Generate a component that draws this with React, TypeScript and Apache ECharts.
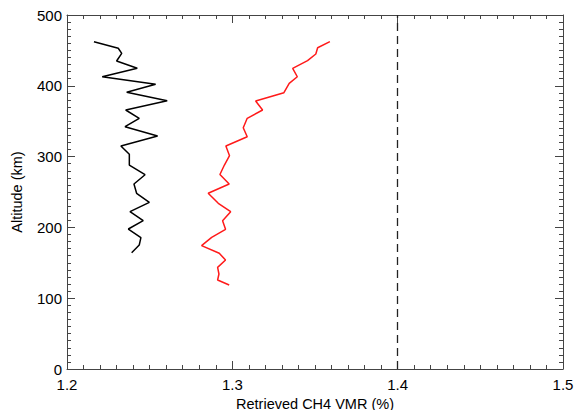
import React, { useEffect, useRef } from "react";
import * as echarts from "echarts";

const xTicks = [1.2, 1.3, 1.4, 1.5];
const yTicks = [0, 100, 200, 300, 400, 500];
const referenceVMR = 1.4;

const blackAltitude = [462.3, 453.0, 445.9, 435.0, 424.7, 412.8, 402.1, 390.8, 379.0, 365.8, 354.1, 342.2, 329.1, 315.0, 303.2, 288.1, 274.4, 261.3, 248.2, 235.4, 222.2, 209.5, 197.7, 185.5, 175.1, 164.3];
const blackVMR = [1.2163, 1.231, 1.2331, 1.23, 1.2425, 1.2213, 1.2536, 1.2361, 1.2606, 1.2355, 1.2437, 1.2351, 1.2548, 1.2326, 1.2377, 1.2377, 1.2472, 1.2405, 1.2421, 1.2498, 1.2381, 1.2461, 1.2371, 1.2447, 1.2437, 1.2391];

const redAltitude = [462.3, 453.8, 444.9, 435.5, 424.7, 412.8, 403.5, 390.3, 378.5, 365.8, 354.1, 340.8, 328.1, 315.0, 301.3, 288.1, 274.7, 261.3, 248.2, 234.0, 222.2, 209.5, 197.3, 186.0, 174.2, 163.4, 154.0, 143.6, 134.2, 125.7, 118.6];
const redVMR = [1.359, 1.3516, 1.3505, 1.3455, 1.3365, 1.3393, 1.3344, 1.3312, 1.3141, 1.3183, 1.309, 1.3066, 1.309, 1.2961, 1.2983, 1.2952, 1.2925, 1.2981, 1.2854, 1.2915, 1.299, 1.2941, 1.2959, 1.2875, 1.2814, 1.2921, 1.2959, 1.2911, 1.2919, 1.2911, 1.2981];

const FONT = "'Liberation Sans', Arial, Helvetica, sans-serif";
const AXIS_COLOR = "#444";

export default function App() {
  const ref = useRef<HTMLDivElement>(null);
  useEffect(() => {
    if (!ref.current) return;
    const chart = echarts.init(ref.current, null, { renderer: "svg" });
    const pair = (xs: number[], ys: number[]) => xs.map((x, i) => [x, ys[i]]);
    const axisCommon = {
      axisLine: { show: true, onZero: false, lineStyle: { color: AXIS_COLOR, width: 1 } },
      axisTick: { show: true, inside: true, length: 8, lineStyle: { color: AXIS_COLOR, width: 1 } },
      minorTick: { show: true, splitNumber: 10, length: 4, lineStyle: { color: AXIS_COLOR, width: 1 } },
      splitLine: { show: false },
      minorSplitLine: { show: false },
    };
    chart.setOption({
      animation: false,
      backgroundColor: "#fff",
      grid: { left: 67, right: 12, top: 15, bottom: 41, containLabel: false, outerBoundsMode: "none" },
      xAxis: [
        {
          type: "value",
          position: "bottom",
          min: xTicks[0],
          max: xTicks[xTicks.length - 1],
          interval: 0.1,
          ...axisCommon,
          axisLabel: {
            color: "#000",
            fontSize: 15,
            fontFamily: FONT,
            margin: 8,
            formatter: (v: number) => v.toFixed(1),
          },
          name: "Retrieved CH4 VMR (%)",
          nameLocation: "middle",
          nameGap: 21,
          nameTextStyle: { color: "#000", fontSize: 14.5, fontFamily: FONT, lineHeight: 14 },
        },
        {
          type: "value",
          position: "top",
          min: xTicks[0],
          max: xTicks[xTicks.length - 1],
          interval: 0.1,
          ...axisCommon,
          axisLabel: { show: false },
        },
      ],
      yAxis: [
        {
          type: "value",
          position: "left",
          min: yTicks[0],
          max: yTicks[yTicks.length - 1],
          interval: 100,
          ...axisCommon,
          axisLabel: { color: "#000", fontSize: 15, fontFamily: FONT, margin: 5 },
          name: "Altitude (km)",
          nameLocation: "middle",
          nameGap: 43,
          nameRotate: 90,
          nameTextStyle: { color: "#000", fontSize: 14.5, fontFamily: FONT },
        },
        {
          type: "value",
          position: "right",
          min: yTicks[0],
          max: yTicks[yTicks.length - 1],
          interval: 100,
          ...axisCommon,
          axisLabel: { show: false },
        },
      ],
      series: [
        {
          type: "line",
          data: pair(blackVMR, blackAltitude),
          symbol: "none",
          lineStyle: { color: "#000", width: 1.5 },
          markLine: {
            silent: true,
            symbol: ["none", "none"],
            label: { show: false },
            lineStyle: { color: "#222", type: [8, 5], width: 1.3 },
            data: [{ xAxis: referenceVMR }],
          },
        },
        {
          type: "line",
          data: pair(redVMR, redAltitude),
          symbol: "none",
          lineStyle: { color: "#ff1a1a", width: 1.5 },
        },
      ],
    });
    return () => chart.dispose();
  }, []);
  return (
    <div
      ref={ref}
      style={{ position: "fixed", left: 0, top: 0, width: 575, height: 410, background: "#fff" }}
    />
  );
}
